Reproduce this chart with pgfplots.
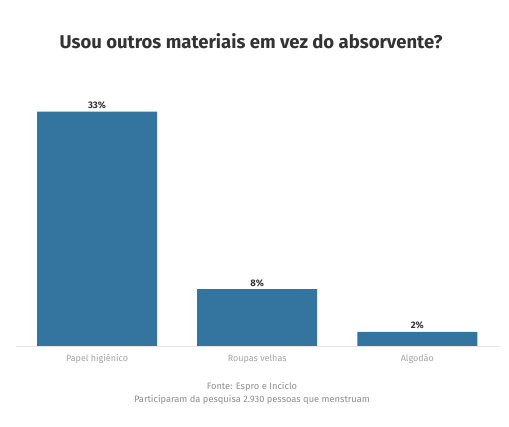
\documentclass[border=0pt]{standalone}
\usepackage{pgfplots}
\pgfplotsset{compat=1.18}
\usepackage{fontspec}
\setmainfont{Fira Sans}
\definecolor{barc}{HTML}{33759F}
\definecolor{tickc}{HTML}{A3A3A3}
\definecolor{footc}{HTML}{8E8E8E}
\definecolor{titc}{HTML}{333333}
\begin{document}
\begin{tikzpicture}[x=1pt,y=1pt]
\path (0,0) rectangle (509,427);
\node[font=\fontsize{18.5}{20}\selectfont\bfseries, text=titc] at (251,386) {Usou outros materiais em vez do absorvente?};
\begin{axis}[
  at={(16pt,81pt)}, anchor=south west,
  scale only axis, width=483pt, height=248.5pt,
  xmin=-0.506, xmax=2.51, ymin=0, ymax=35,
  axis line style={draw=none},
  axis x line*=bottom,
  hide y axis,
  xtick=data,
  xticklabels={Papel higiênico, Roupas velhas, Algodão},
  xtick style={draw=none},
  x tick label style={font=\fontsize{9}{10}\selectfont, text=tickc, yshift=-1pt},
  ybar, bar width=120pt,
  /pgf/number format/assume math mode=true,
  nodes near coords={\pgfmathprintnumber{\pgfplotspointmeta}\%},
  nodes near coords style={font=\fontsize{9.5}{10}\selectfont\bfseries, text=titc, yshift=-1pt},
  clip=false,
]
\addplot[fill=barc, draw=none] coordinates {(0,33) (1,8) (2,2)};
\draw[gray!20] (axis cs:-0.506,0) -- (axis cs:2.51,0);
\end{axis}
\node[font=\fontsize{9.3}{10}\selectfont, text=footc] at (252,40) {Fonte: Espro e Inciclo};
\node[font=\fontsize{9.3}{10}\selectfont, text=footc] at (252,27) {Participaram da pesquisa 2.930 pessoas que menstruam};
\end{tikzpicture}
\end{document}
